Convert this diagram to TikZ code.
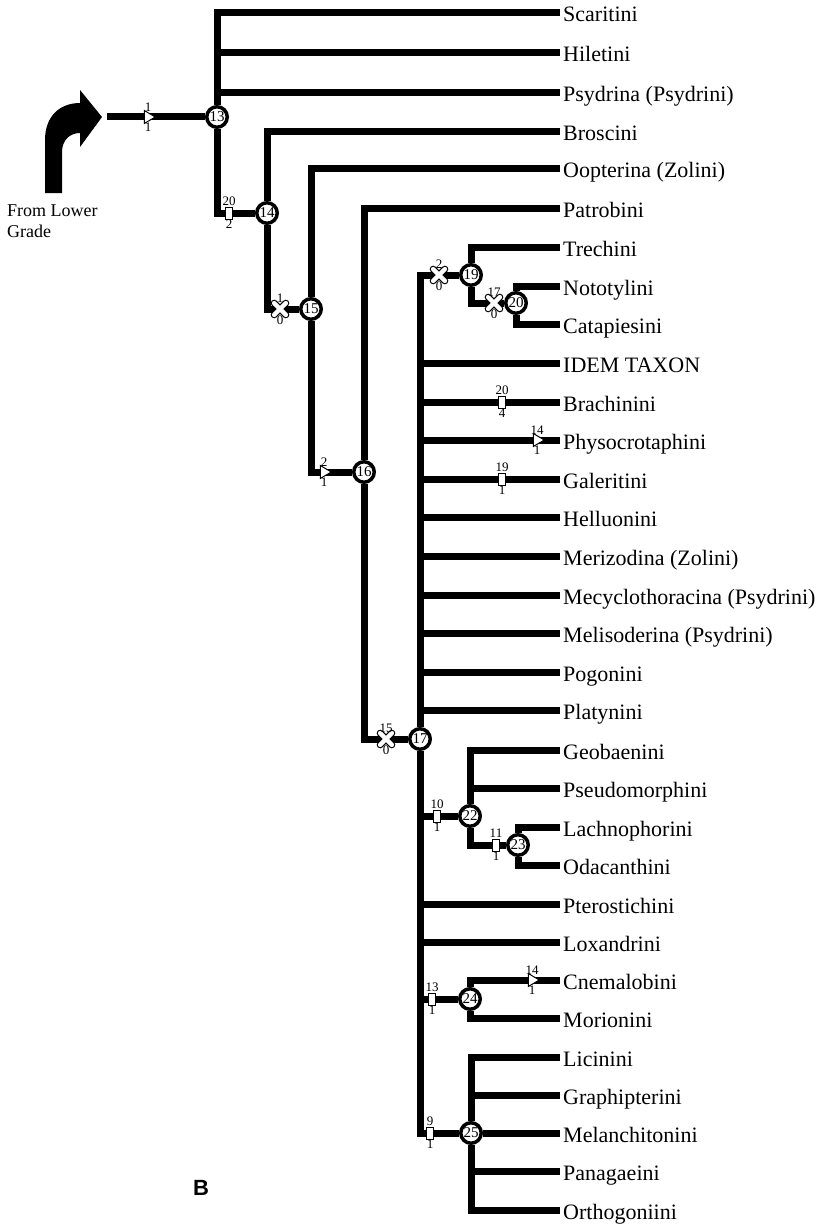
\documentclass[tikz,border=0pt]{standalone}
\usepackage{fontspec}
\setmainfont{Liberation Serif}
\newfontfamily\panelfont{Liberation Sans}
\usepackage{tikz}
\usetikzlibrary{shapes.geometric, shapes.misc}

\begin{document}
\begin{tikzpicture}[
        x=1pt, y=-1pt,
        taxon/.style={anchor=west, inner sep=3pt, text height=18pt, text depth=0pt, font=\fontsize{22}{24}\selectfont},
        branch/.style={line width=7pt},
        clade/.style={circle, draw, line width=3.5pt, fill=white, inner sep=0pt, minimum size=20.5pt, font=\fontsize{15}{15}\selectfont},
        change/.style={font=\fontsize{13}{13}\selectfont, inner sep=0.5pt},
        boxmark/.style={rectangle, draw, fill=white, line width=1pt, inner sep=0pt, minimum width=7pt, minimum height=12pt, label distance=2pt},
        triamark/.style={isosceles triangle, isosceles triangle stretches, draw, fill=white, line width=1pt, inner sep=0pt, minimum width=13pt, minimum height=11pt, label distance=1pt},
        crossmark/.style={cross out, draw, line width=1.2pt, double=white, double distance=4.5pt, line cap=round, inner sep=0pt, minimum size=10.5pt, label distance=5pt}
    ]
    \useasboundingbox (0,0) rectangle (832,1225);

    % Taxons terminaux
    \node[taxon] (Scar) at (560,13) {Scaritini};
    \node[taxon] (Hile) at (560,53) {Hiletini};
    \node[taxon] (Psyd) at (560,93) {Psydrina (Psydrini)};
    \node[taxon] (Bros) at (560,132) {Broscini};
    \node[taxon] (Oopt) at (560,169) {Oopterina (Zolini)};
    \node[taxon] (Patr) at (560,208) {Patrobini};
    \node[taxon] (Trec) at (560,247) {Trechini};
    \node[taxon] (Noto) at (560,286) {Nototylini};
    \node[taxon] (Cata) at (560,324) {Catapiesini};
    \node[taxon] (Idem) at (560,363) {IDEM TAXON};
    \node[taxon] (Brac) at (560,402) {Brachinini};
    \node[taxon] (Phys) at (560,440) {Physocrotaphini};
    \node[taxon] (Gale) at (560,479) {Galeritini};
    \node[taxon] (Hell) at (560,517) {Helluonini};
    \node[taxon] (Meri) at (560,556) {Merizodina (Zolini)};
    \node[taxon] (Mecy) at (560,595) {Mecyclothoracina (Psydrini)};
    \node[taxon] (Meli) at (560,633) {Melisoderina (Psydrini)};
    \node[taxon] (Pogo) at (560,672) {Pogonini};
    \node[taxon] (Plat) at (560,710) {Platynini};
    \node[taxon] (Geob) at (560,750) {Geobaenini};
    \node[taxon] (Pseu) at (560,788) {Pseudomorphini};
    \node[taxon] (Lach) at (560,827) {Lachnophorini};
    \node[taxon] (Odac) at (560,865) {Odacanthini};
    \node[taxon] (Pter) at (560,904) {Pterostichini};
    \node[taxon] (Loxa) at (560,942) {Loxandrini};
    \node[taxon] (Cnem) at (560,980) {Cnemalobini};
    \node[taxon] (Mori) at (560,1018) {Morionini};
    \node[taxon] (Lici) at (560,1057) {Licinini};
    \node[taxon] (Grap) at (560,1095) {Graphipterini};
    \node[taxon] (Mela) at (560,1133) {Melanchitonini};
    \node[taxon] (Pana) at (560,1171) {Panagaeini};
    \node[taxon] (Orth) at (560,1210) {Orthogoniini};

    % Noeuds internes
    \node[clade] (N13) at (217,117) {13};
    \node[clade] (N14) at (267,213) {14};
    \node[clade] (N15) at (311,309) {15};
    \node[clade] (N16) at (364,472) {16};
    \node[clade] (N17) at (420,739) {17};
    \node[clade] (N19) at (471,275) {19};
    \node[clade] (N20) at (516,303) {20};
    \node[clade] (N22) at (470,816) {22};
    \node[clade] (N23) at (518,845) {23};
    \node[clade] (N24) at (470,999) {24};
    \node[clade] (N25) at (471,1133) {25};

    % Entree depuis le grade inferieur
    \fill (45,193) -- (45,140) .. controls (45,116) and (60,103) .. (80,103) -- (80,90)
        -- (102,117) -- (80,147) -- (80,133) .. controls (70,133) and (62,140) .. (62,152)
        -- (62,193) -- cycle;
    \node[anchor=north west, align=left, inner sep=0pt, font=\fontsize{18}{21}\selectfont] (from) at (7,205) {From Lower\\Grade};
    \coordinate (src) at (107,117);

    % Branches
    \draw[branch] (src) -- (N13);
    \draw[branch] (N13) |- (Scar.west);
    \draw[branch] (N13) |- (Hile.west);
    \draw[branch] (N13) |- (Psyd.west);
    \draw[branch] (N13) |- (N14);
    \draw[branch] (N14) |- (Bros.west);
    \draw[branch] (N14) |- (N15);
    \draw[branch] (N15) |- (Oopt.west);
    \draw[branch] (N15) |- (N16);
    \draw[branch] (N16) |- (Patr.west);
    \draw[branch] (N16) |- (N17);
    \draw[branch] (N17) |- (N19);
    \draw[branch] (N19) |- (Trec.west);
    \draw[branch] (N19) |- (N20);
    \draw[branch] (N20) |- (Noto.west);
    \draw[branch] (N20) |- (Cata.west);
    \draw[branch] (N17) |- (Idem.west);
    \draw[branch] (N17) |- (Brac.west);
    \draw[branch] (N17) |- (Phys.west);
    \draw[branch] (N17) |- (Gale.west);
    \draw[branch] (N17) |- (Hell.west);
    \draw[branch] (N17) |- (Meri.west);
    \draw[branch] (N17) |- (Mecy.west);
    \draw[branch] (N17) |- (Meli.west);
    \draw[branch] (N17) |- (Pogo.west);
    \draw[branch] (N17) |- (Plat.west);
    \draw[branch] (N17) |- (N22);
    \draw[branch] (N22) |- (Geob.west);
    \draw[branch] (N22) |- (Pseu.west);
    \draw[branch] (N22) |- (N23);
    \draw[branch] (N23) |- (Lach.west);
    \draw[branch] (N23) |- (Odac.west);
    \draw[branch] (N17) |- (Pter.west);
    \draw[branch] (N17) |- (Loxa.west);
    \draw[branch] (N17) |- (N24);
    \draw[branch] (N24) |- (Cnem.west);
    \draw[branch] (N24) |- (Mori.west);
    \draw[branch] (N17) |- (N25);
    \draw[branch] (N25) |- (Lici.west);
    \draw[branch] (N25) |- (Grap.west);
    \draw[branch] (N25) -- (Mela.west);
    \draw[branch] (N25) |- (Pana.west);
    \draw[branch] (N25) |- (Orth.west);

    % Changements de caracteres (etat au-dessus, etat au-dessous)
    \node[triamark, label={[change]above:1}, label={[change]below:1}] (c1) at (148,117) {};
    \node[boxmark, label={[change]above:20}, label={[change]below:2}] (c2) at (229,213) {};
    \node[crossmark, label={[change]above:1}, label={[change]below:0}] (c3) at (280,309) {};
    \node[triamark, label={[change]above:2}, label={[change]below:1}] (c4) at (324,472) {};
    \node[crossmark, label={[change]above:15}, label={[change]below:0}] (c5) at (386,739) {};
    \node[crossmark, label={[change]above:2}, label={[change]below:0}] (c6) at (439,275) {};
    \node[crossmark, label={[change]above:17}, label={[change]below:0}] (c7) at (494,303) {};
    \node[boxmark, label={[change]above:20}, label={[change]below:4}] (c8) at (502,402) {};
    \node[triamark, label={[change]above:14}, label={[change]below:1}] (c9) at (537,440) {};
    \node[boxmark, label={[change]above:19}, label={[change]below:1}] (c10) at (502,479) {};
    \node[boxmark, label={[change]above:10}, label={[change]below:1}] (c11) at (437,816) {};
    \node[boxmark, label={[change]above:11}, label={[change]below:1}] (c12) at (496,845) {};
    \node[boxmark, label={[change]above:13}, label={[change]below:1}] (c13) at (432,999) {};
    \node[triamark, label={[change]above:14}, label={[change]below:1}] (c14) at (532,980) {};
    \node[boxmark, label={[change]above:9}, label={[change]below:1}] (c15) at (430,1133) {};

    % Panneau
    \node[font=\panelfont\bfseries\fontsize{22}{22}\selectfont] (panel) at (201,1188) {B};
\end{tikzpicture}
\end{document}
